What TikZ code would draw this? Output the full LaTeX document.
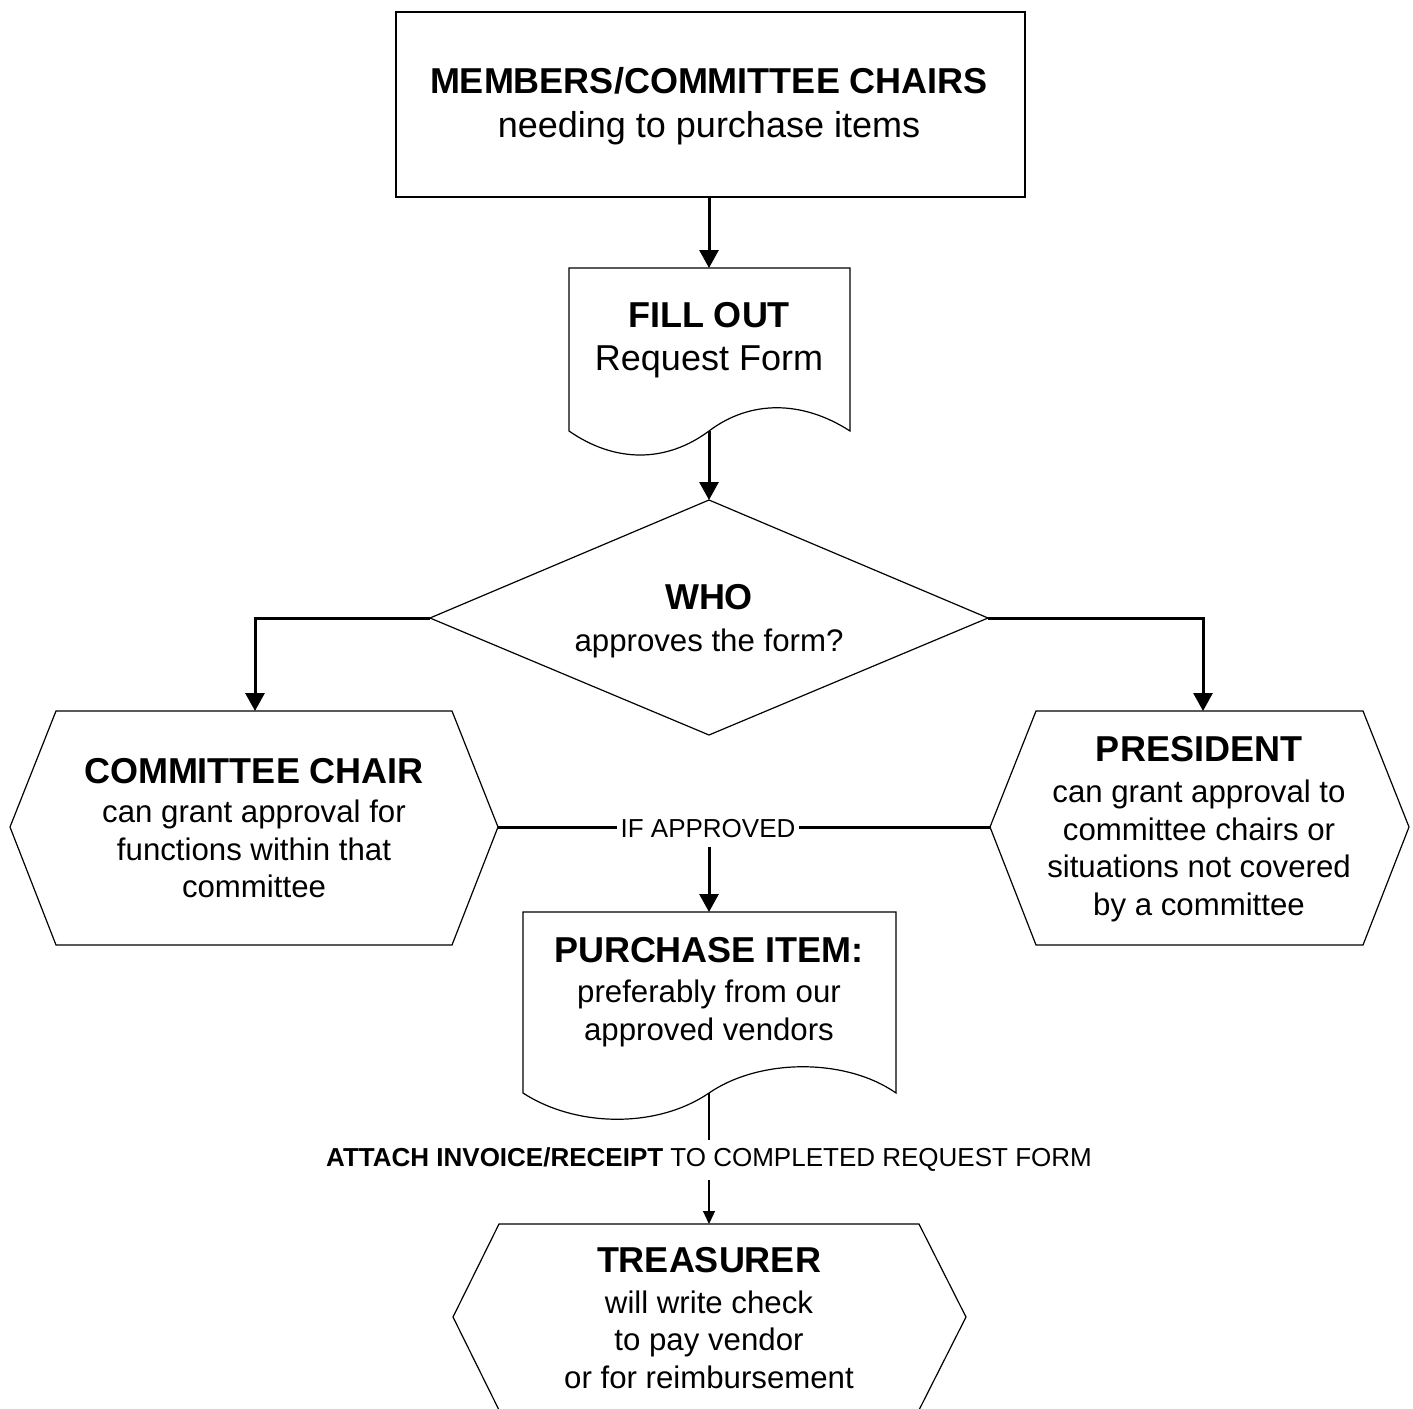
\documentclass[tikz,border=0pt]{standalone}
\usepackage{fontspec}
\setmainfont{Liberation Sans}
\usetikzlibrary{arrows.meta}
\newcommand{\ttl}[1]{{\fontsize{18}{19}\selectfont\bfseries #1}}
\newcommand{\bdy}[1]{{\fontsize{18}{19}\selectfont #1}}
\begin{document}
\begin{tikzpicture}[x=0.5pt,y=-0.5pt,
  shapeline/.style={draw=black,line width=0.6pt},
  txt/.style={align=center,inner sep=0pt,font=\fontsize{15.6}{18.7}\selectfont},
  small/.style={inner xsep=1.5pt,inner ysep=4pt,font=\fontsize{13}{15}\selectfont},
  thickarrow/.style={line width=1.5pt,-{Triangle[width=9.5pt,length=9pt]}},
  thickline/.style={line width=1.5pt},
  thinline/.style={line width=0.6pt},
  thinarrow/.style={line width=0.6pt,-{Triangle[width=6pt,length=6.5pt]}}]

\useasboundingbox (0,0) rectangle (1413,1408);

% ---- shapes ----
\node[shapeline,rectangle,minimum width=314.5pt,minimum height=92.5pt,inner sep=0pt] (members) at (710.5,104.5) {};
\draw[shapeline] (569,431) -- (569,268) -- (850,268) -- (850,431)
  .. controls (802,400) and (750,400) .. (709,431)
  .. controls (666,463) and (615,463) .. (569,431) -- cycle;
\draw[shapeline] (709,500) -- (988,618) -- (709,735) -- (430,618) -- cycle;
\draw[shapeline] (56,711) -- (452,711) -- (498,827) -- (452,945) -- (56,945) -- (10,827) -- cycle;
\draw[shapeline] (1036,711) -- (1363,711) -- (1409,827) -- (1363,945) -- (1036,945) -- (990,827) -- cycle;
\draw[shapeline] (523,1093) -- (523,912) -- (896,912) -- (896,1093)
  .. controls (846,1058) and (760,1058) .. (709,1093)
  .. controls (658,1128) and (577,1128) .. (523,1093) -- cycle;
\draw[shapeline] (499,1224) -- (919,1224) -- (966,1317) -- (919,1410) -- (499,1410) -- (453,1317) -- cycle;

% ---- connection points ----
\coordinate (members-bot) at (709,197);
\coordinate (fill-top) at (709,268);
\coordinate (fill-bot) at (709,431);
\coordinate (who-top) at (709,500);
\coordinate (who-left) at (430,618);
\coordinate (who-right) at (988,618);
\coordinate (chair-top) at (255,711);
\coordinate (chair-right) at (498,827);
\coordinate (pres-top) at (1203,711);
\coordinate (pres-left) at (990,827);
\coordinate (purch-top) at (709,912);
\coordinate (purch-bot) at (709,1093);
\coordinate (treas-top) at (709,1224);

% ---- texts ----
\node[txt] (memberstxt) at (709,106) {\ttl{MEMBERS/COMMITTEE CHAIRS}\\[3pt]\bdy{needing to purchase items}};
\node[txt] (filltxt) at (709,340) {\ttl{FILL OUT}\\[3pt]\bdy{Request Form}};
\node[txt] (whotxt) at (709,621) {\ttl{WHO}\\[2pt]approves the form?};
\node[txt] (chairtxt) at (254,828) {\ttl{COMMITTEE CHAIR}\\[1pt]can grant approval for\\functions within that\\committee};
\node[txt] (prestxt) at (1199,829) {\ttl{PRESIDENT}\\[2pt]can grant approval to\\committee chairs or\\situations not covered\\by a committee};
\node[txt] (purchtxt) at (709,992) {\ttl{PURCHASE ITEM:}\\[1.5pt]preferably from our\\approved vendors};
\node[txt] (treastxt) at (709,1318) {\ttl{TREASURER}\\[1.5pt]will write check\\to pay vendor\\or for reimbursement};
\node[small] (ifapp) at (708,829) {IF APPROVED};
\node[small] (attach) at (709,1160) {\textbf{ATTACH INVOICE/RECEIPT} TO COMPLETED REQUEST FORM};

% ---- connectors ----
\draw[thickarrow] (members-bot) -- (fill-top);
\draw[thickarrow] (fill-bot) -- (who-top);
\draw[thickarrow] (who-left) -| (chair-top);
\draw[thickarrow] (who-right) -| (pres-top);
\draw[thickline] (chair-right) -- (chair-right -| ifapp.west);
\draw[thickline] (pres-left -| ifapp.east) -- (pres-left);
\draw[thickarrow] (ifapp.south -| purch-top) -- (purch-top);
\draw[thinline] (purch-bot) -- (attach.north);
\draw[thinarrow] (attach.south) -- (treas-top);
\end{tikzpicture}
\end{document}
